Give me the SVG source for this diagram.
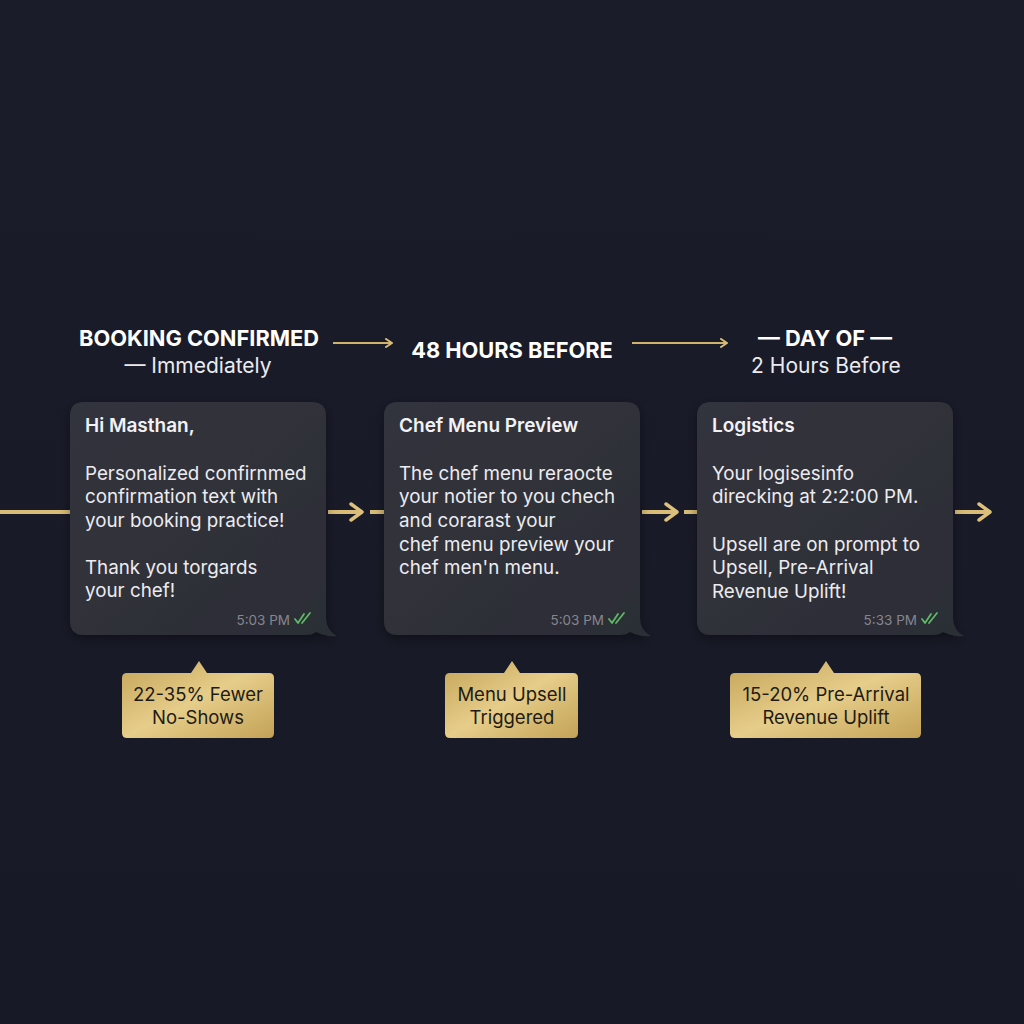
<svg xmlns="http://www.w3.org/2000/svg" width="1024" height="1024" viewBox="0 0 1024 1024">
<defs>
<linearGradient id="bg" x1="0" y1="0" x2="0" y2="1">
<stop offset="0" stop-color="#1b1c2a"/>
<stop offset="1" stop-color="#171926"/>
</linearGradient>
<linearGradient id="gold" x1="0" y1="0" x2="1" y2="1">
<stop offset="0" stop-color="#c4a459"/>
<stop offset="0.5" stop-color="#e6cd8a"/>
<stop offset="1" stop-color="#c3a256"/>
</linearGradient>
<linearGradient id="bubble" x1="0" y1="0" x2="1" y2="1">
<stop offset="0" stop-color="#33343d"/>
<stop offset="1" stop-color="#2c2d36"/>
</linearGradient>
<marker id="ah" viewBox="0 0 10 10" refX="8" refY="5" markerWidth="10" markerHeight="10" markerUnits="userSpaceOnUse" orient="auto">
<path d="M2,1 L8,5 L2,9" fill="none" stroke="#d9bd78" stroke-width="2" stroke-linecap="round" stroke-linejoin="round"/>
</marker>
<marker id="ahb" viewBox="0 0 20 20" refX="16" refY="10" markerWidth="20" markerHeight="20" markerUnits="userSpaceOnUse" orient="auto">
<path d="M5,2 L16,10 L5,18" fill="none" stroke="#dcc07c" stroke-width="3.5" stroke-linecap="round" stroke-linejoin="round"/>
</marker>
<filter id="sh" x="-10%" y="-10%" width="120%" height="130%">
<feDropShadow dx="0" dy="4" stdDeviation="6" flood-color="#000" flood-opacity="0.4"/>
</filter>
</defs>
<style>
.hd{font-family:Inter,"Liberation Sans",sans-serif;font-weight:700;font-size:21.8px;fill:#ffffff;text-anchor:middle}
.sub{font-family:Inter,"Liberation Sans",sans-serif;font-weight:400;font-size:21px;fill:#ebebef;text-anchor:middle}
.tt{font-family:Inter,"Liberation Sans",sans-serif;font-weight:600;font-size:19px;fill:#f2f2f5}
.bd{font-family:Inter,"Liberation Sans",sans-serif;font-weight:400;font-size:18.8px;fill:#ececf0}
.ts{font-family:Inter,"Liberation Sans",sans-serif;font-size:13.5px;fill:#85868f;text-anchor:end}
.chk{fill:none;stroke:#5fb865;stroke-width:1.8;stroke-linecap:round;stroke-linejoin:round}
.bub{fill:url(#bubble)}
.bdg{fill:url(#gold)}
.bt{font-family:Inter,"Liberation Sans",sans-serif;font-size:18.5px;fill:#1e1b14;text-anchor:middle}
.ln{stroke:#d8bc77;stroke-width:4;fill:none}
.hl{stroke:#cfb26c;stroke-width:2.2;fill:none}
</style>
<rect width="1024" height="1024" fill="url(#bg)"/>

<g id="connectors">
<line class="ln" x1="0" y1="512" x2="70" y2="512"/>
<line class="ln" x1="328" y1="512" x2="362" y2="512" marker-end="url(#ahb)"/>
<line class="ln" x1="370" y1="512" x2="384" y2="512"/>
<line class="ln" x1="642" y1="512" x2="677" y2="512" marker-end="url(#ahb)"/>
<line class="ln" x1="684" y1="512" x2="697" y2="512"/>
<line class="ln" x1="955" y1="512" x2="990" y2="512" marker-end="url(#ahb)"/>
<line class="hl" x1="333" y1="343" x2="392" y2="343" marker-end="url(#ah)"/>
<line class="hl" x1="632" y1="343" x2="727" y2="343" marker-end="url(#ah)"/>
</g>

<g id="header1">
<text class="hd" x="199" y="346">BOOKING CONFIRMED</text>
<text class="sub" x="198" y="373">— Immediately</text>
</g>
<g id="header2">
<text class="hd" x="512" y="358">48 HOURS BEFORE</text>
</g>
<g id="header3">
<text class="hd" x="825" y="346">— DAY OF —</text>
<text class="sub" x="826" y="373">2 Hours Before</text>
</g>

<g id="bubble1">
<path class="bub" filter="url(#sh)" d="M84,402 H312 Q326,402 326,416 V618 Q326,630 337,636 Q326,637 316,632 Q312,635 306,635 H84 Q70,635 70,621 V416 Q70,402 84,402 Z"/>
<text class="tt" x="85" y="432">Hi Masthan,</text>
<text class="bd" x="85" y="480">Personalized confirnmed</text>
<text class="bd" x="85" y="503">confirmation text with</text>
<text class="bd" x="85" y="527">your booking practice!</text>
<text class="bd" x="85" y="574">Thank you torgards</text>
<text class="bd" x="85" y="597">your chef!</text>
<text class="ts" x="290" y="625">5:03 PM</text>
<path class="chk" d="M295,619 L298,623 L304,614 M302,623 L310,613"/>
</g>

<g id="bubble2">
<path class="bub" filter="url(#sh)" d="M398,402 H626 Q640,402 640,416 V618 Q640,630 651,636 Q640,637 630,632 Q626,635 620,635 H398 Q384,635 384,621 V416 Q384,402 398,402 Z"/>
<text class="tt" x="399" y="432">Chef Menu Preview</text>
<text class="bd" x="399" y="480">The chef menu reraocte</text>
<text class="bd" x="399" y="503">your notier to you chech</text>
<text class="bd" x="399" y="527">and corarast your</text>
<text class="bd" x="399" y="551">chef menu preview your</text>
<text class="bd" x="399" y="574">chef men'n menu.</text>
<text class="ts" x="604" y="625">5:03 PM</text>
<path class="chk" d="M609,619 L612,623 L618,614 M616,623 L624,613"/>
</g>

<g id="bubble3">
<path class="bub" filter="url(#sh)" d="M711,402 H939 Q953,402 953,416 V618 Q953,630 964,636 Q953,637 943,632 Q939,635 933,635 H711 Q697,635 697,621 V416 Q697,402 711,402 Z"/>
<text class="tt" x="712" y="432">Logistics</text>
<text class="bd" x="712" y="480">Your logisesinfo</text>
<text class="bd" x="712" y="503">direcking at 2:2:00 PM.</text>
<text class="bd" x="712" y="551">Upsell are on prompt to</text>
<text class="bd" x="712" y="574">Upsell, Pre-Arrival</text>
<text class="bd" x="712" y="598">Revenue Uplift!</text>
<text class="ts" x="917" y="625">5:33 PM</text>
<path class="chk" d="M922,619 L925,623 L931,614 M929,623 L937,613"/>
</g>

<g id="badge1">
<path class="bdg" d="M127,673 H191 L199,661 L207,673 H269 Q274,673 274,678 V733 Q274,738 269,738 H127 Q122,738 122,733 V678 Q122,673 127,673 Z"/>
<text class="bt" x="198" y="701">22-35% Fewer</text>
<text class="bt" x="198" y="724">No-Shows</text>
</g>
<g id="badge2">
<path class="bdg" d="M450,673 H504 L512,661 L520,673 H573 Q578,673 578,678 V733 Q578,738 573,738 H450 Q445,738 445,733 V678 Q445,673 450,673 Z"/>
<text class="bt" x="512" y="701">Menu Upsell</text>
<text class="bt" x="512" y="724">Triggered</text>
</g>
<g id="badge3">
<path class="bdg" d="M735,673 H818 L826,661 L834,673 H916 Q921,673 921,678 V733 Q921,738 916,738 H735 Q730,738 730,733 V678 Q730,673 735,673 Z"/>
<text class="bt" x="826" y="701">15-20% Pre-Arrival</text>
<text class="bt" x="826" y="724">Revenue Uplift</text>
</g>
</svg>
